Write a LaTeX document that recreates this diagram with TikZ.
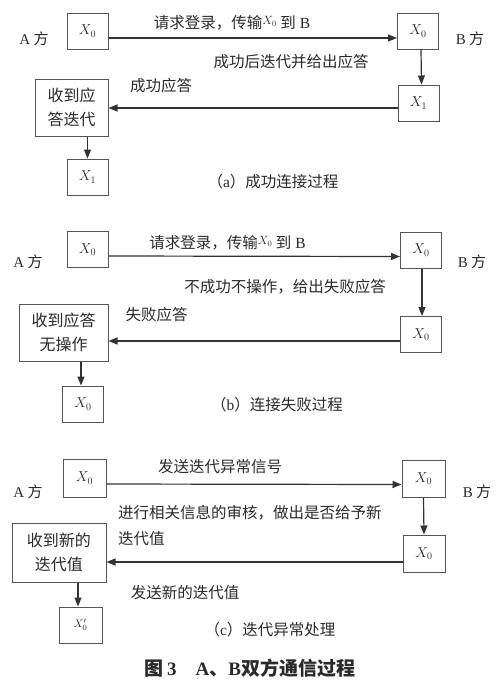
\documentclass[tikz,border=0pt]{standalone}
\usepackage{fontspec}
\setmainfont{Liberation Serif}
\newfontfamily\cjk{Noto Sans CJK SC}
\usetikzlibrary{arrows.meta}
\definecolor{linec}{HTML}{333333}
\definecolor{boxc}{HTML}{555555}
\definecolor{txtc}{HTML}{2A2A2A}
\newcommand\lat[1]{{\rmfamily #1}}
\newcommand\supX{\raisebox{4pt}{\fontsize{12}{12}\selectfont$X_0$}}
\tikzset{
  box/.style={draw=boxc, line width=1pt, minimum width=41pt, minimum height=36pt,
    inner sep=0pt, text=txtc, font=\fontsize{14}{14}\selectfont},
  bigbox/.style={box, align=center, font=\cjk\fontsize{16}{24}\selectfont},
  lbl/.style={font=\cjk\fontsize{15.5}{26}\selectfont, text=txtc, inner sep=0pt},
  side/.style={font=\cjk\fontsize{15}{15}\selectfont, text=txtc, inner sep=0pt},
  arr/.style={draw=linec, line width=1.2pt, -{Triangle[length=9pt,width=7pt]}},
}
\begin{document}
\begin{tikzpicture}[x=1pt,y=-1pt]
\useasboundingbox[fill=white] (0,0) rectangle (500,683);

% ---------- panel (a)
\node[box] (aA0) at (87.5,31) {$X_0$};
\node[side] (aA) at (34,39) {\lat{A}\ 方};
\node[box] (aB0) at (418,31) {$X_0$};
\node[side] (aB) at (470,39) {\lat{B}\ 方};
\node[box] (aB1) at (418.5,103) {$X_1$};
\node[bigbox, minimum width=73pt, minimum height=57pt] (aA1) at (71.5,107.5) {收到应\\答迭代};
\node[box] (aA2) at (87.5,177) {$X_1$};
\node[lbl] (aL1) at (232,23) {请求登录，传输\supX\ 到\lat{ B}};
\node[lbl] (aL2) at (291,62) {成功后迭代并给出应答};
\node[lbl] (aL3) at (161,86) {成功应答};
\node[lbl] (aCap) at (273,182) {（\lat{a}）成功连接过程};
\draw[arr] ([yshift=-7pt]aA0.east) -- ([yshift=-7pt]aB0.west);
\draw[arr] ([xshift=3pt]aB0.south) -- ([xshift=3pt]aB1.north);
\coordinate (aR) at ([yshift=-5pt]aB1.west);
\draw[arr] (aR) -- (aR -| aA1.east);
\draw[arr] (aA1.south -| aA2.north) -- (aA2.north);

% ---------- panel (b)
\node[box] (bA0) at (87.5,249.5) {$X_0$};
\node[side] (bA) at (28,262) {\lat{A}\ 方};
\node[box] (bB0) at (421,250) {$X_0$};
\node[side] (bB) at (472,262) {\lat{B}\ 方};
\node[box] (bB1) at (421,334.5) {$X_0$};
\node[bigbox, minimum width=89pt, minimum height=57pt] (bA1) at (63.5,332.5) {收到应答\\无操作};
\node[box] (bA2) at (83,404) {$X_0$};
\node[lbl] (bL1) at (227.5,243) {请求登录，传输\supX\ 到\lat{ B}};
\node[lbl] (bL2) at (285,287) {不成功不操作，给出失败应答};
\node[lbl] (bL3) at (156.5,315) {失败应答};
\node[lbl] (bCap) at (277,405) {（\lat{b}）连接失败过程};
\draw[arr] ([yshift=-6.5pt]bA0.east) -- ([yshift=-6.5pt]bB0.west);
\draw[arr] ([xshift=1pt]bB0.south) -- ([xshift=1pt]bB1.north);
\coordinate (bR) at ([yshift=-6.5pt]bB1.west);
\draw[arr] (bR) -- (bR -| bA1.east);
\draw[arr] ([xshift=-2pt]bA1.south -| bA2.north) -- ([xshift=-2pt]bA2.north);

% ---------- panel (c)
\node[box, minimum width=43pt, minimum height=38pt] (cA0) at (84.5,478) {$X_0$};
\node[side] (cA) at (28,492) {\lat{A}\ 方};
\node[box, minimum width=43pt, minimum height=37pt] (cB0) at (423.5,478.5) {$X_0$};
\node[side] (cB) at (477,492) {\lat{B}\ 方};
\node[box, minimum width=42pt, minimum height=37pt] (cB1) at (424,553.5) {$X_0$};
\node[bigbox, minimum width=94pt, minimum height=59pt] (cA1) at (59,552.5) {收到新的\\迭代值};
\node[box, minimum width=43pt, minimum height=36pt, font=\fontsize{11}{11}\selectfont] (cA2) at (80.5,625) {$X_0'$};
\node[lbl] (cL1) at (220,467) {发送迭代异常信号};
\node[lbl, anchor=north west, align=left] (cL2) at (118,505) {进行相关信息的审核，做出是否给予新\\迭代值};
\node[lbl] (cL3) at (185,593) {发送新的迭代值};
\node[lbl] (cCap) at (270,630) {（\lat{c}）迭代异常处理};
\draw[arr] ([yshift=-6pt]cA0.east) -- ([yshift=-6pt]cB0.west);
\draw[arr] (cB0.south) -- (cB1.north);
\coordinate (cR) at ([yshift=-8.5pt]cB1.west);
\draw[arr] (cR) -- (cR -| cA1.east);
\draw[arr] ([xshift=-2.5pt]cA1.south -| cA2.north) -- ([xshift=-2.5pt]cA2.north);

% ---------- title
\node[font=\cjk\bfseries\fontsize{19}{19}\selectfont, text=txtc, inner sep=0pt] (title) at (250,668)
  {图\,\lat{\textbf{3}}\quad\lat{\textbf{A}}、\lat{\textbf{B}}双方通信过程};
\end{tikzpicture}
\end{document}
